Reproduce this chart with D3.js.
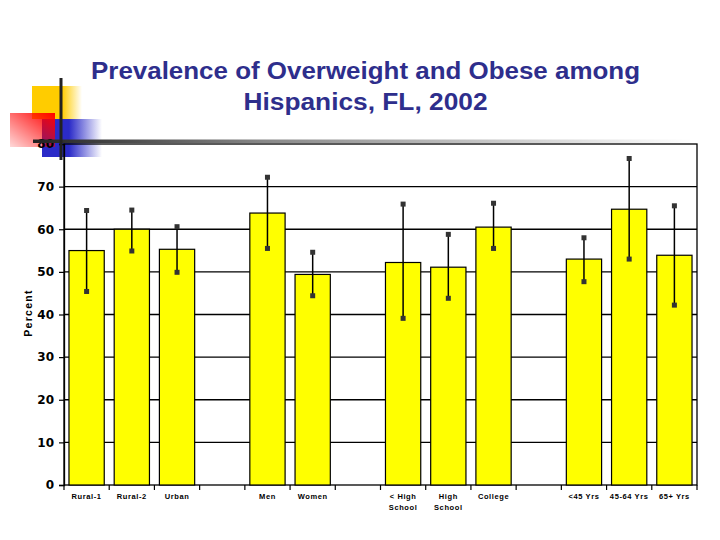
<!DOCTYPE html>
<html><head><meta charset="utf-8">
<script src="https://cdn.jsdelivr.net/npm/d3@7"></script>
<style>body{margin:0;background:#fff}svg{display:block}</style>
</head><body>
<script>
const categories = ["Rural-1","Rural-2","Urban","","Men","Women","","< High|School","High|School","College","","<45 Yrs","45-64 Yrs","65+ Yrs"];
const values =   [55, 60, 55.3, null, 63.8, 49.4, null, 52.2, 51.1, 60.5, null, 53.0, 64.7, 53.9];
const errLow =   [45.4, 54.9, 49.9, null, 55.5, 44.4, null, 39.1, 43.8, 55.5, null, 47.7, 53.0, 42.2];
const errHigh =  [64.4, 64.5, 60.6, null, 72.2, 54.6, null, 65.9, 58.8, 66.1, null, 58.0, 76.6, 65.5];
const yTicks = [0,10,20,30,40,50,60,70,80];
const titleLines = ["Prevalence of Overweight and Obese among","Hispanics, FL, 2002"];

const W=720,H=540;
const svg=d3.select("body").append("svg").attr("width",W).attr("height",H);
const defs=svg.append("defs");
function lg(id,x1,y1,x2,y2,stops){const g=defs.append("linearGradient").attr("id",id).attr("x1",x1).attr("y1",y1).attr("x2",x2).attr("y2",y2);
 stops.forEach(s=>g.append("stop").attr("offset",s[0]).attr("stop-color",s[1]).attr("stop-opacity",s[2]));}
lg("gy","0","0","1","0",[[0,"#ffcc00",1],[0.6,"#ffcc00",1],[1,"#ffcc00",0]]);
lg("gr","1","0","0","1",[[0,"#ff0000",1],[1,"#ff0000",0.15]]);
lg("gb","0","0","1","0",[[0,"#2b2bc8",1],[0.45,"#2b2bc8",1],[1,"#2b2bc8",0]]);
lg("gl","0","0","1","0",[[0,"#222",1],[0.35,"#888",1],[1,"#fff",1]]);

const x=d3.scaleBand().domain(d3.range(categories.length)).range([64,697]).paddingInner(0.22).paddingOuter(0.11);
const y=d3.scaleLinear().domain([0,80]).range([485,144]);

// decorations
svg.append("rect").attr("x",32).attr("y",86).attr("width",50).attr("height",33).attr("fill","url(#gy)");
svg.append("rect").attr("x",42).attr("y",119).attr("width",60).attr("height",38).attr("fill","url(#gb)");
svg.append("rect").attr("x",10).attr("y",113).attr("width",45).attr("height",34).attr("fill","url(#gr)");

// gridlines
svg.append("g").selectAll("line").data(yTicks.slice(1,-1)).join("line")
 .attr("x1",64).attr("x2",697).attr("y1",d=>y(d)).attr("y2",d=>y(d)).attr("stroke","#000").attr("stroke-width",1.3);
// plot border
svg.append("rect").attr("x",64).attr("y",y(80)).attr("width",633).attr("height",y(0)-y(80)).attr("fill","none").attr("stroke","#000").attr("stroke-width",1.3);

// bars
const idx=d3.range(categories.length).filter(i=>values[i]!=null);
svg.append("g").selectAll("rect").data(idx).join("rect")
 .attr("x",i=>x(i)).attr("width",x.bandwidth()).attr("y",i=>y(values[i])).attr("height",i=>y(0)-y(values[i]))
 .attr("fill","#ffff00").attr("stroke","#000").attr("stroke-width",1.2);

// error bars
const eb=svg.append("g");
eb.selectAll("line").data(idx).join("line")
 .attr("x1",i=>x(i)+x.bandwidth()/2).attr("x2",i=>x(i)+x.bandwidth()/2)
 .attr("y1",i=>y(errLow[i])).attr("y2",i=>y(errHigh[i])).attr("stroke","#000").attr("stroke-width",1.5);
eb.selectAll("rect.lo").data(idx).join("rect").attr("class","lo")
 .attr("x",i=>x(i)+x.bandwidth()/2-2.5).attr("y",i=>y(errLow[i])-2.5).attr("width",5).attr("height",5).attr("fill","#333");
eb.selectAll("rect.hi").data(idx).join("rect").attr("class","hi")
 .attr("x",i=>x(i)+x.bandwidth()/2-2.5).attr("y",i=>y(errHigh[i])-2.5).attr("width",5).attr("height",5).attr("fill","#333");

// y axis
const ya=svg.append("g").attr("transform","translate(64,0)")
 .call(d3.axisLeft(y).tickValues(yTicks).tickSize(5).tickPadding(5).tickFormat(d3.format("d")));
ya.select(".domain").attr("stroke","#000").attr("stroke-width",1.3);
ya.selectAll("line").attr("stroke","#000").attr("stroke-width",1.2);
ya.selectAll("text").attr("font-family","Tahoma, 'DejaVu Sans', Arial, sans-serif").attr("font-weight","bold").attr("font-size",12).attr("fill","#000");

// x axis ticks at boundaries
const step=x.step();
const bounds=d3.range(categories.length+1).map(k=>64+k*step);
svg.append("g").selectAll("line").data(bounds).join("line")
 .attr("x1",d=>d).attr("x2",d=>d).attr("y1",485).attr("y2",490).attr("stroke","#000").attr("stroke-width",1.2);
const xl=svg.append("g");
categories.forEach((c,i)=>{ if(!c) return;
 const t=xl.append("text").attr("x",x(i)+x.bandwidth()/2).attr("y",499).attr("text-anchor","middle")
  .attr("font-family","Arial, 'Liberation Sans', sans-serif").attr("font-weight","bold").attr("font-size",7.5).attr("letter-spacing",0.6).attr("fill","#000");
 c.split("|").forEach((s,k)=>t.append("tspan").attr("x",x(i)+x.bandwidth()/2).attr("dy",k?11:0).text(s));
});

// y label
svg.append("text").attr("transform","translate(32,313) rotate(-90)").attr("text-anchor","middle")
 .attr("font-family","Arial, sans-serif").attr("font-weight","bold").attr("font-size",10.5).attr("letter-spacing",1.3).attr("fill","#000").text("Percent");

// decorative lines
svg.append("rect").attr("x",33).attr("y",139.5).attr("width",660).attr("height",3.5).attr("fill","url(#gl)");
svg.append("rect").attr("x",59.5).attr("y",78).attr("width",3).attr("height",82).attr("fill","#222");

// title
const titleW=[549,244];
titleLines.forEach((s,k)=>svg.append("text").attr("text-anchor","middle").attr("font-family","Arial, 'Liberation Sans', sans-serif")
 .attr("font-weight","bold").attr("font-size",23).attr("fill","#2e2e8c")
 .attr("x",365.5).attr("y",k?110:79).attr("textLength",titleW[k]).attr("lengthAdjust","spacingAndGlyphs").text(s));
</script>
</body></html>
